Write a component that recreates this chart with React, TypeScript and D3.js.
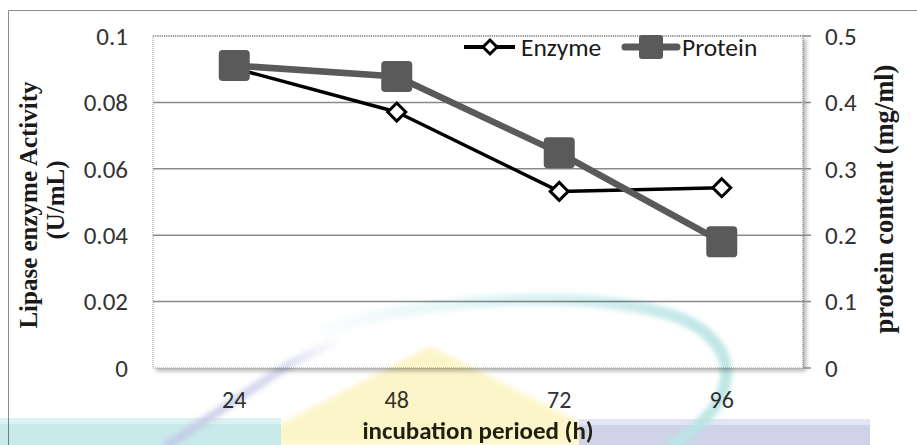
import React from "react";
import * as d3 from "d3";

const categories = ["24", "48", "72", "96"];
const enzyme = [0.0903, 0.0771, 0.0532, 0.0543];
const protein = [0.4555, 0.439, 0.324, 0.19];
const leftTicks = [0, 0.02, 0.04, 0.06, 0.08, 0.1];
const rightTicks = [0, 0.1, 0.2, 0.3, 0.4, 0.5];
const seriesNames = ["Enzyme", "Protein"];
const xTitle = "incubation perioed (h)";
const yLeftTitle = ["Lipase enzyme Activity", "(U/mL)"];
const yRightTitle = "protein content (mg/ml)";

const W = 917;
const H = 445;
const plot = { left: 153, right: 803, top: 36, bottom: 368 };

const sans = "Carlito, Calibri, Lato, 'Open Sans', sans-serif";
const serif = "'Liberation Serif', 'Times New Roman', serif";

export default function App() {
  const x = d3
    .scaleBand<string>()
    .domain(categories)
    .range([plot.left, plot.right])
    .paddingInner(0)
    .paddingOuter(0);
  const xc = (c: string) => (x(c) as number) + x.bandwidth() / 2;
  const yL = d3.scaleLinear().domain([0, 0.1]).range([plot.bottom, plot.top]);
  const yR = d3.scaleLinear().domain([0, 0.5]).range([plot.bottom, plot.top]);

  const enzymeLine = d3
    .line<number>()
    .x((_, i) => xc(categories[i]))
    .y((d) => yL(d));
  const proteinLine = d3
    .line<number>()
    .x((_, i) => xc(categories[i]))
    .y((d) => yR(d));

  const diamond = (cx: number, cy: number, r: number) =>
    `M${cx},${cy - r}L${cx + r},${cy}L${cx},${cy + r}L${cx - r},${cy}Z`;

  const fmt = (v: number) => (v === 0 ? "0" : String(+v.toFixed(2)));

  return (
    <svg
      width={W}
      height={H}
      style={{ position: "absolute", left: 0, top: 0, background: "#fff" }}
    >
      <defs>
        <filter id="shadow" x="-5%" y="-5%" width="115%" height="115%">
          <feDropShadow dx="3" dy="3" stdDeviation="2" floodColor="#000" floodOpacity="0.3" />
        </filter>
        <filter id="soft" x="-10%" y="-10%" width="120%" height="120%">
          <feGaussianBlur stdDeviation="2.5" />
        </filter>
        <linearGradient id="fadeArc" x1="320" y1="0" x2="700" y2="0" gradientUnits="userSpaceOnUse">
          <stop offset="0" stopColor="#c8ebeb" stopOpacity="0.1" />
          <stop offset="0.5" stopColor="#c8ebeb" stopOpacity="0.6" />
          <stop offset="1" stopColor="#b9e4e4" stopOpacity="0.9" />
        </linearGradient>
        <linearGradient id="fadeDiag" x1="165" y1="445" x2="340" y2="340" gradientUnits="userSpaceOnUse">
          <stop offset="0" stopColor="#c3c8e6" stopOpacity="0.9" />
          <stop offset="0.7" stopColor="#c9cde8" stopOpacity="0.7" />
          <stop offset="1" stopColor="#dfe1f2" stopOpacity="0.1" />
        </linearGradient>
      </defs>
      {/* outer chart border */}
      <line x1={8.5} y1={10.5} x2={W} y2={10.5} stroke="#8c8c8c" strokeWidth={1} />
      <line x1={8.5} y1={10.5} x2={8.5} y2={H} stroke="#8c8c8c" strokeWidth={1} />

      {/* plot area */}
      <rect
        x={plot.left}
        y={plot.top}
        width={plot.right - plot.left}
        height={plot.bottom - plot.top}
        fill="#fff"
        filter="url(#shadow)"
      />
      {/* gridlines */}
      {leftTicks.slice(1, -1).map((t) => (
        <line
          key={"g" + t}
          x1={plot.left}
          x2={plot.right + 8}
          y1={yL(t)}
          y2={yL(t)}
          stroke="#8a8a8a"
          strokeWidth={1.5}
        />
      ))}
      <line x1={plot.right} x2={plot.right + 8} y1={plot.bottom} y2={plot.bottom} stroke="#8a8a8a" strokeWidth={1.5} />
      <line x1={plot.right} x2={plot.right + 8} y1={plot.top} y2={plot.top} stroke="#8a8a8a" strokeWidth={1.5} />
      {/* plot borders */}
      <line x1={plot.left} x2={plot.right} y1={plot.top} y2={plot.top} stroke="#333" strokeWidth={1.2} strokeDasharray="1.2,1" />
      <line x1={plot.left} x2={plot.left} y1={plot.top} y2={plot.bottom} stroke="#999" strokeWidth={1} strokeDasharray="1,1" />
      <line x1={plot.right} x2={plot.right} y1={plot.top} y2={plot.bottom} stroke="#999" strokeWidth={1.5} strokeDasharray="1,1" />
      <line x1={plot.left} x2={plot.right} y1={plot.bottom} y2={plot.bottom} stroke="#999" strokeWidth={1} strokeDasharray="1,1" />

      {/* series: enzyme below, protein on top */}
      <path d={enzymeLine(enzyme) || ""} fill="none" stroke="#000" strokeWidth={3.5} strokeLinejoin="round" />
      {enzyme.map((v, i) => (
        <path
          key={"e" + i}
          d={diamond(xc(categories[i]), yL(v), 9)}
          fill="#fff"
          stroke="#000"
          strokeWidth={3}
        />
      ))}
      <path d={proteinLine(protein) || ""} fill="none" stroke="#5a5a5a" strokeWidth={6.5} strokeLinejoin="round" />
      {protein.map((v, i) => (
        <rect
          key={"p" + i}
          x={xc(categories[i]) - 15.5}
          y={yR(v) - 15.5}
          width={31}
          height={31}
          rx={4}
          fill="#5a5a5a"
        />
      ))}

      {/* legend */}
      <line x1={464} x2={515} y1={47} y2={47} stroke="#000" strokeWidth={4} />
      <path d={diamond(490, 47, 7)} fill="#fff" stroke="#000" strokeWidth={3} />
      <text x={521} y={47} dy="0.35em" fontFamily={sans} fontSize={25.5} fill="#1a1a1a">
        {seriesNames[0]}
      </text>
      <line x1={625} x2={677} y1={47} y2={47} stroke="#5a5a5a" strokeWidth={7} strokeLinecap="round" />
      <rect x={639} y={35} width={24} height={24} rx={3} fill="#5a5a5a" />
      <text x={682} y={47} dy="0.35em" fontFamily={sans} fontSize={25.5} fill="#1a1a1a">
        {seriesNames[1]}
      </text>

      {/* left ticks */}
      {leftTicks.map((t) => (
        <text
          key={"l" + t}
          x={128}
          y={yL(t)}
          dy="0.35em"
          textAnchor="end"
          fontFamily={sans}
          fontSize={25}
          fill="#333"
        >
          {fmt(t)}
        </text>
      ))}
      {/* right ticks */}
      {rightTicks.map((t) => (
        <text
          key={"r" + t}
          x={825}
          y={yR(t)}
          dy="0.35em"
          textAnchor="start"
          fontFamily={sans}
          fontSize={25}
          fill="#333"
        >
          {fmt(t)}
        </text>
      ))}
      {/* x ticks */}
      {categories.map((c) => (
        <text
          key={"x" + c}
          x={xc(c)}
          y={400}
          dy="0.35em"
          textAnchor="middle"
          fontFamily={sans}
          fontSize={24}
          fill="#333"
        >
          {c}
        </text>
      ))}

      {/* watermark (behind texts of the bottom area) */}
      <g style={{ mixBlendMode: "multiply" }}>
        <polygon points="430,346 625,445 240,445" fill="#fcf4c4" opacity={0.9} filter="url(#soft)" />
        <rect x={0} y={418} width={281} height={27} fill="#c8eaea" />
        <rect x={0} y={418} width={281} height={6} fill="#dcf2f2" />
        <rect x={579} y={419} width={291} height={26} fill="#ced3e8" />
        <rect x={579} y={419} width={291} height={6} fill="#e2e5f2" />
        <path d="M165,447 L290,364 L338,340" fill="none" stroke="url(#fadeDiag)" strokeWidth={9} filter="url(#soft)" />
        <path
          d="M320,332 C420,296 600,288 680,318 C745,345 742,405 668,447"
          fill="none"
          stroke="url(#fadeArc)"
          strokeWidth={12}
          filter="url(#soft)"
        />
      </g>

      {/* axis titles */}
      <text
        x={(plot.left + plot.right) / 2}
        y={439}
        textAnchor="middle"
        fontFamily={sans}
        fontSize={25}
        fontWeight="bold"
        fill="#1f1f10"
      >
        {xTitle}
      </text>
      <g transform="translate(37,205) rotate(-90)">
        <text x={0} y={0} textAnchor="middle" fontFamily={serif} fontSize={25} fontWeight="bold" fill="#1a1a1a">
          {yLeftTitle[0]}
        </text>
      </g>
      <g transform="translate(64,200) rotate(-90)">
        <text x={0} y={0} textAnchor="middle" fontFamily={serif} fontSize={25} fontWeight="bold" fill="#1a1a1a">
          {yLeftTitle[1]}
        </text>
      </g>
      <g transform="translate(893,199) rotate(-90)">
        <text x={0} y={0} textAnchor="middle" fontFamily={serif} fontSize={26.5} fontWeight="bold" fill="#1a1a1a">
          {yRightTitle}
        </text>
      </g>
    </svg>
  );
}
